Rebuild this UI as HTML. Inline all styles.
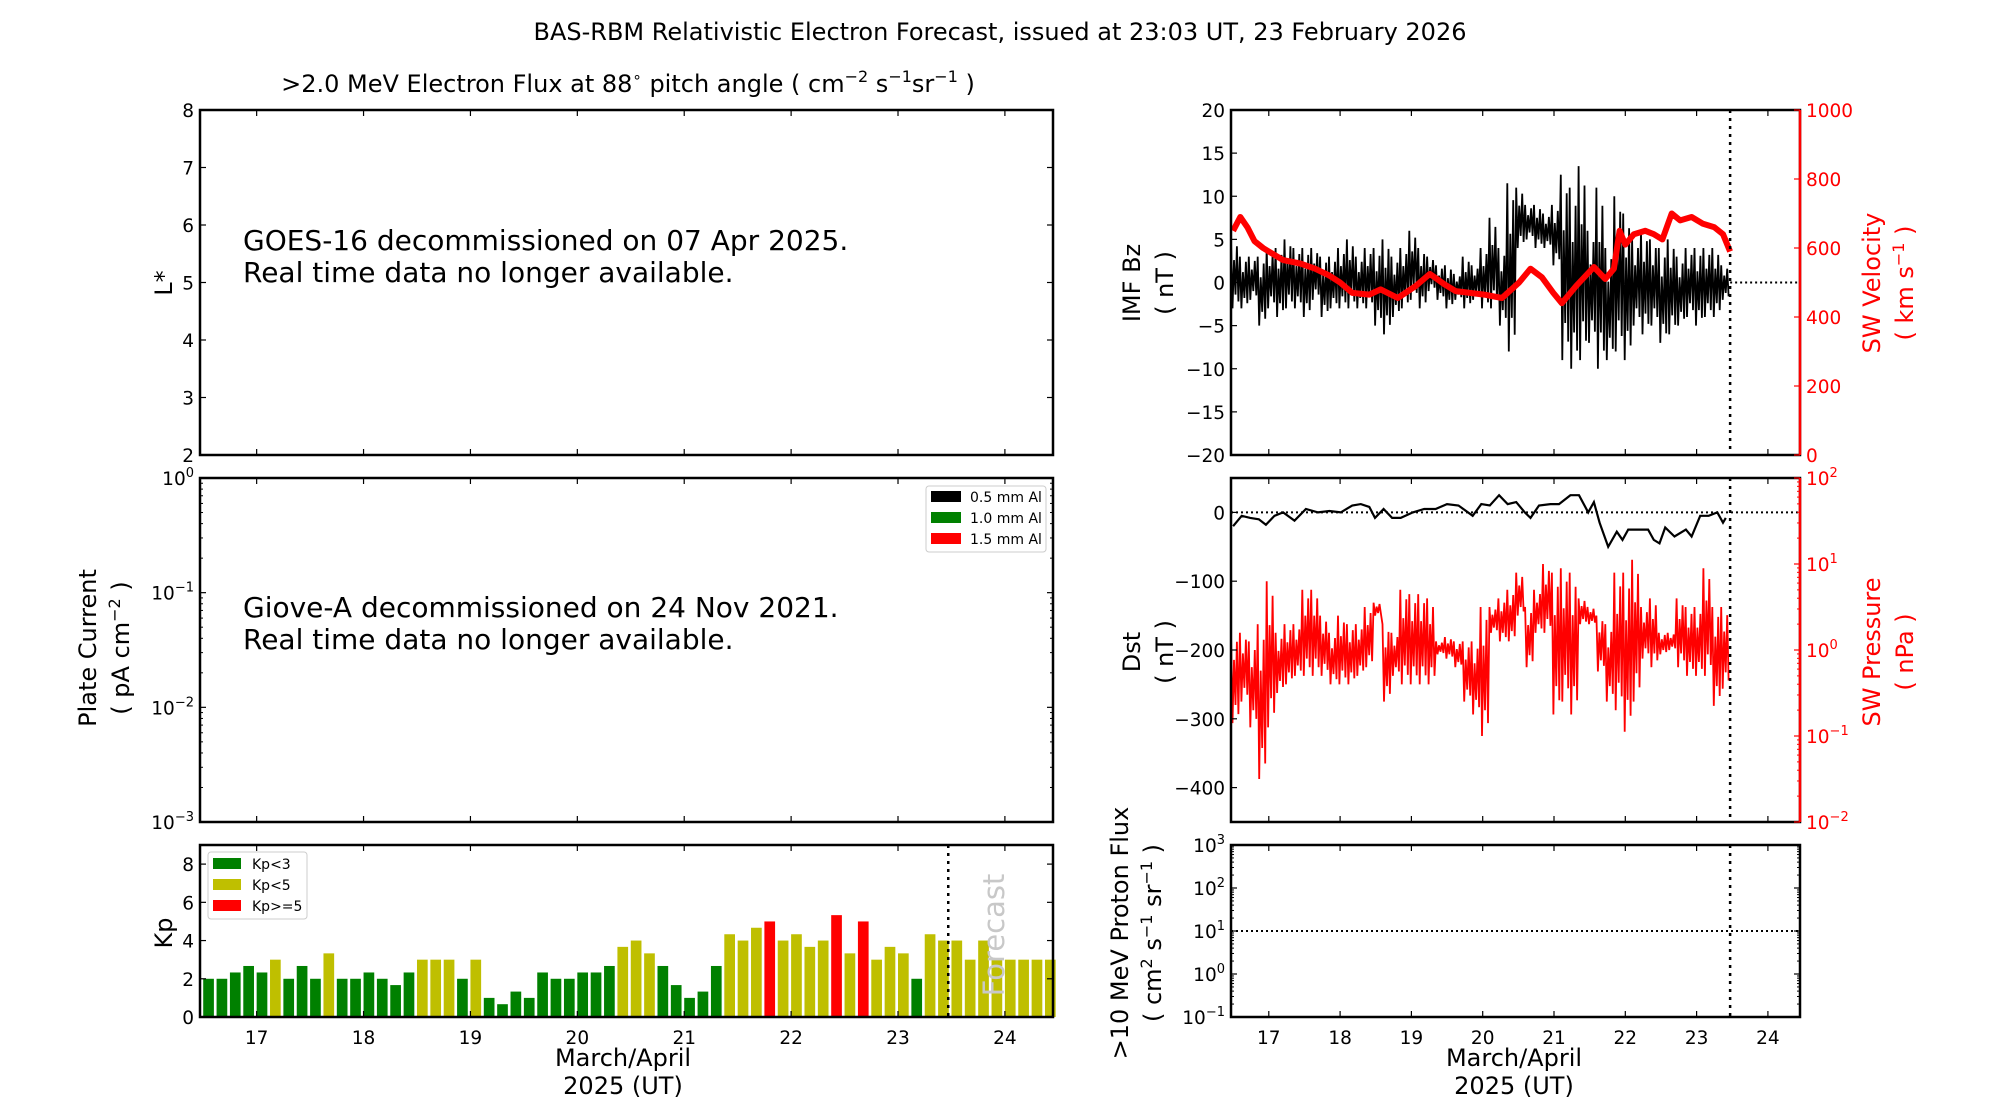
<!DOCTYPE html>
<html><head><meta charset="utf-8"><style>
html,body{margin:0;padding:0;background:#fff}
svg{display:block;font-family:"DejaVu Sans","Liberation Sans",sans-serif}
</style></head><body>
<svg id="c" width="2000" height="1100" viewBox="0 0 2000 1100" xmlns="http://www.w3.org/2000/svg">
<text x="1000" y="40" text-anchor="middle" font-size="24">BAS-RBM Relativistic Electron Forecast, issued at 23:03 UT, 23 February 2026</text>
<text x="628" y="92" text-anchor="middle" font-size="24">&gt;2.0 MeV Electron Flux at 88<tspan font-size="15" dy="-10">∘</tspan><tspan dy="10">  pitch angle ( cm</tspan><tspan font-size="16" dy="-10">−2</tspan><tspan dy="10"> s</tspan><tspan font-size="16" dy="-10">−1</tspan><tspan dy="10">sr</tspan><tspan font-size="16" dy="-10">−1</tspan><tspan dy="10"> )</tspan></text>
<g id="layer"></g>
</svg>
<script>
// ---- data ----
const kpValues=[2,2,2.33,2.67,2.33,3,2,2.67,2,3.33,2,2,2.33,2,1.67,2.33,3,3,3,2,3,1,0.67,1.33,1,2.33,2,2,2.33,2.33,2.67,3.67,4,3.33,2.67,1.67,1,1.33,2.67,4.33,4,4.67,5,4,4.33,3.67,4,5.33,3.33,5,3,3.67,3.33,2,4.33,4,4,3,4,3,3,3,3,3];
const bzHi=[5,3,3,3,4,4,5,4,4,4,3,3,4,5,3,4,4,5,3,4,6,4,3,2,2,1,3,2,4,7.5,4,11.5,11,9,9,8,9,12.5,11,13.5,6,11,4,10,8,5,6,5,4,5,3,4,4,4,4,2];
const bzLo=[-3,-3,-2,-5,-3,-4,-3,-3,-4,-2,-4,-3,-3,-3,-3,-3,-5,-6,-4,-3,-2,-3,-1,-2,-3,-2,-3,-2,-3,-3,-5,-8,4,5,4,4,2,-9,-10,-9,-7,-10,-9,-8,-9,-5,-6,-5,-7,-6,-5,-4,-5,-4,-4,-2];
const velDays=[16.5,16.6,16.7,16.8,16.92,17.04,17.2,17.44,17.65,17.85,18.0,18.17,18.41,18.57,18.81,19.06,19.26,19.46,19.62,19.82,20.02,20.27,20.51,20.67,20.83,20.99,21.11,21.31,21.56,21.72,21.84,21.92,22.0,22.12,22.28,22.4,22.52,22.65,22.77,22.93,23.09,23.25,23.37,23.47];
const velValues=[650,690,660,620,600,585,565,555,540,520,500,470,465,480,455,490,525,495,475,470,465,455,500,540,515,470,440,490,545,510,540,650,610,640,650,640,625,700,680,690,670,660,640,590];
const dstDays=[16.5,16.62,16.74,16.86,16.96,17.08,17.2,17.36,17.52,17.69,17.85,18.01,18.17,18.29,18.41,18.49,18.61,18.73,18.85,19.02,19.18,19.34,19.5,19.66,19.86,19.98,20.1,20.23,20.35,20.47,20.59,20.67,20.79,20.95,21.07,21.23,21.35,21.48,21.56,21.64,21.76,21.88,21.96,22.04,22.2,22.32,22.4,22.48,22.56,22.69,22.85,22.93,23.05,23.17,23.29,23.37,23.41];
const dstValues=[-20,-5,-8,-10,-18,-5,0,-12,5,0,2,0,10,12,8,-8,5,-8,-8,0,5,5,12,10,-5,12,10,25,12,15,0,-8,10,12,12,25,25,0,15,-15,-50,-28,-40,-25,-25,-25,-40,-45,-22,-35,-25,-35,-5,-5,0,-15,-8];
const presLogHi=[0.2,0.2,0.1,0.3,0.8,0.2,0.3,0.3,0.7,0.7,0.4,0.2,0.4,0.3,0.3,0.5,0.55,0.3,0.2,0.7,0.65,0.65,0.6,0.1,0.15,0.1,0.1,0.1,0.5,0.5,0.6,0.7,0.9,0.5,0.7,1.0,0.9,0.95,0.9,0.6,0.5,0.4,0.3,0.9,0.9,1.05,0.5,0.6,0.2,0.2,0.6,0.5,0.5,0.95,0.5,0.5];
const presLogLo=[-0.85,-0.6,-0.9,-1.5,-0.9,-0.5,-0.4,-0.3,-0.3,-0.3,-0.3,-0.4,-0.4,-0.4,-0.3,-0.2,0.4,-0.6,-0.3,-0.4,-0.4,-0.4,-0.4,-0.05,-0.1,-0.2,-0.6,-0.75,-1.0,0.2,0.1,0.1,0.4,-0.2,0.2,0.2,-0.75,-0.6,-0.75,0.3,0.3,-0.25,-0.6,-0.7,-0.95,-0.6,-0.1,-0.2,-0.05,0,-0.2,-0.3,-0.3,-0.3,-0.65,-0.45];
const dayTicks=[17,18,19,20,21,22,23,24];
const nowDay=23.47;

const NS='http://www.w3.org/2000/svg';
const layer=document.getElementById('layer');
const TF=18.5;
function mk(tag,attrs,parent){const e=document.createElementNS(NS,tag);for(const k in attrs)e.setAttribute(k,attrs[k]);(parent||layer).appendChild(e);return e;}
const D0=16.47,D1=24.45;
function lin(d0,d1,p0,p1){return v=>p0+(v-d0)/(d1-d0)*(p1-p0);}
function logs(d0,d1,p0,p1){return v=>p0+(Math.log10(v)-d0)/(d1-d0)*(p1-p0);}

function frame(x0,y0,x1,y1,name,color){
  const r=mk('rect',{x:x0,y:y0,width:x1-x0,height:y1-y0,fill:'none',stroke:'#000','stroke-width':2.5});
  
  
  if(color){mk('line',{x1:x1,y1:y0,x2:x1,y2:y1,stroke:color,'stroke-width':2.5});}
}
function txt(x,y,s,opt,name){
  const t=mk('text',Object.assign({x:x,y:y,'font-size':TF},opt||{}));
  t.textContent=s;
  
  
  return t;
}
function supLabel(x,y,base,exp,anchor,color,name){
  const t=mk('text',{x:x,y:y,'font-size':TF,'text-anchor':anchor,fill:color||'#000'});
  
  
  const a=mk('tspan',{},t);a.textContent=base;
  const b=mk('tspan',{'font-size':13,dy:-8},t);b.textContent=exp;
  return t;
}
function xTicks(x0,x1,y0,y1,labels,name){
  const sx=lin(D0,D1,x0,x1);
  dayTicks.forEach(d=>{
    mk('line',{x1:sx(d),y1:y1,x2:sx(d),y2:y1-6,stroke:'#000','stroke-width':1.2});
    mk('line',{x1:sx(d),y1:y0,x2:sx(d),y2:y0+6,stroke:'#000','stroke-width':1.2});
    if(labels)txt(sx(d),y1+27,String(d),{'text-anchor':'middle'},name+'-tick-'+d);
  });
}
function yTicksLin(x0,x1,sy,vals,side,color,name){
  vals.forEach(v=>{
    const y=sy(v);
    if(side==='left'){mk('line',{x1:x0,y1:y,x2:x0+6,y2:y,stroke:'#000','stroke-width':1.2});
      txt(x0-6,y+7,String(v).replace('-','−'),{'text-anchor':'end',fill:color||'#000'},name+'-'+v);}
    else {mk('line',{x1:x1,y1:y,x2:x1-6,y2:y,stroke:color||'#000','stroke-width':1.2});
      txt(x1+6,y+7,String(v),{'text-anchor':'start',fill:color||'#000'},name+'-'+v);}
  });
}
function yTicksLog(x0,x1,sy,e0,e1,side,color,name,bothSides){
  for(let e=e0;e<=e1;e++){
    const y=sy(Math.pow(10,e));
    const col=color||'#000';
    if(side==='left'||bothSides)mk('line',{x1:x0,y1:y,x2:x0+6,y2:y,stroke:col,'stroke-width':1.2});
    if(side==='right'||bothSides)mk('line',{x1:x1,y1:y,x2:x1-6,y2:y,stroke:col,'stroke-width':1.2});
    if(side==='left')supLabel(x0-6,y+7,'10',String(e).replace('-','−'),'end',col,name+'-'+e);
    else supLabel(x1+6,y+7,'10',String(e).replace('-','−'),'start',col,name+'-'+e);
    if(e<e1)for(let m=2;m<10;m++){const ym=sy(m*Math.pow(10,e));
      if(side==='left'||bothSides)mk('line',{x1:x0,y1:ym,x2:x0+3,y2:ym,stroke:col,'stroke-width':1});
      if(side==='right'||bothSides)mk('line',{x1:x1,y1:ym,x2:x1-3,y2:ym,stroke:col,'stroke-width':1});}
  }
}
function rotLabel(x,y,lines,color,name,size){
  const g=mk('text',{transform:'translate('+x+','+y+') rotate(-90)','text-anchor':'middle','font-size':size||24,fill:color||'#000'});
  
  
  lines.forEach((ln,i)=>{const t=mk('tspan',{x:0,dy:i?33:0},g);
    ln.forEach(p=>{const s=mk('tspan',p[1]?{'font-size':16,'baseline-shift':'super'}:{},t);s.textContent=p[0];});});
  return g;
}
function zig(hi,lo,sx,sy){
  const pts=[];const fr=[1,0,0.7,0.2,0.9,0.1];
  hi.forEach((h,i)=>{const l=lo[i];for(let k=0;k<6;k++){const t=D0+(i+k/6)/8;const v=l+(h-l)*fr[k];pts.push(sx(t).toFixed(1)+','+sy(v).toFixed(1));}});
  return pts.join(' ');
}

// ---- left top: L* panel ----
(function(){
  const x0=200,x1=1053,y0=110,y1=455;const sy=lin(2,8,y1,y0);
  frame(x0,y0,x1,y1,'lstar-panel');
  yTicksLin(x0,x1,sy,[2,3,4,5,6,7,8],'left','#000','lstar-tick');
  [3,4,5,6,7].forEach(v=>mk('line',{x1:x1,y1:sy(v),x2:x1-6,y2:sy(v),stroke:'#000','stroke-width':1.2}));
  xTicks(x0,x1,y0,y1,false,'lstar');
  rotLabel(172,283,[[['L*']]],'#000','lstar-axis-title');
  txt(243,250,'GOES-16 decommissioned on 07 Apr 2025.',{'font-size':28},'goes-notice-line1');
  txt(243,282,'Real time data no longer available.',{'font-size':28},'goes-notice-line2');
})();
// ---- left middle: plate current ----
(function(){
  const x0=200,x1=1053,y0=478,y1=822;const sy=logs(-3,0,y1,y0);
  frame(x0,y0,x1,y1,'plate-current-panel');
  yTicksLog(x0,x1,sy,-3,0,'left','#000','plate-tick',true);
  xTicks(x0,x1,y0,y1,false,'plate');
  rotLabel(96,648,[[['Plate Current']],[['( pA cm'],['−2',1],[' )']]],'#000','plate-axis-title');
  txt(243,617,'Giove-A decommissioned on 24 Nov 2021.',{'font-size':28},'giove-notice-line1');
  txt(243,649,'Real time data no longer available.',{'font-size':28},'giove-notice-line2');
  const lg=mk('rect',{x:926,y:486,width:120,height:66,fill:'#fff',stroke:'#ccc','stroke-width':1,rx:3});
  
  [['#000','0.5 mm Al'],['#008000','1.0 mm Al'],['#ff0000','1.5 mm Al']].forEach((e,i)=>{
    const r=mk('rect',{x:931,y:491+i*21,width:30,height:11,fill:e[0]});
    
    txt(970,502+i*21,e[1],{'font-size':14},'legend-entry-'+i);
  });
})();
// ---- left bottom: Kp ----
(function(){
  const x0=200,x1=1053,y0=845,y1=1017;const sx=lin(D0,D1,x0,x1);const sy=lin(0,9,y1,y0);
  kpValues.forEach((v,i)=>{
    const t=16.5+i/8;const c=v<3?'#008000':(v<5?'#bfbf00':'#ff0000');
    const w=sx(t+0.8/8)-sx(t);
    const r=mk('rect',{x:sx(t),y:sy(v),width:w,height:sy(0)-sy(v),fill:c});
    
    
  });
  const fc=mk('text',{transform:'translate('+(sx(nowDay)+56)+',935) rotate(-90)','text-anchor':'middle','font-size':29,fill:'#c8c8c8'});
  fc.textContent='Forecast';
  const nl=mk('line',{x1:sx(nowDay),y1:y0,x2:sx(nowDay),y2:y1,stroke:'#000','stroke-width':2.5,'stroke-dasharray':'3,5'});
  
  frame(x0,y0,x1,y1,'kp-panel');
  yTicksLin(x0,x1,sy,[0,2,4,6,8],'left','#000','kp-tick');
  [2,4,6,8].forEach(v=>mk('line',{x1:x1,y1:sy(v),x2:x1-6,y2:sy(v),stroke:'#000','stroke-width':1.2}));
  xTicks(x0,x1,y0,y1,true,'kp-x');
  rotLabel(172,933,[[['Kp']]],'#000','kp-axis-title');
  const lg=mk('rect',{x:208,y:852,width:99,height:67,fill:'#fff',stroke:'#ccc','stroke-width':1,rx:3});
  
  [['#008000','Kp<3'],['#bfbf00','Kp<5'],['#ff0000','Kp>=5']].forEach((e,i)=>{
    const r=mk('rect',{x:213,y:858+i*21,width:28,height:11,fill:e[0]});
    
    txt(252,869+i*21,e[1],{'font-size':14},'kp-legend-entry-'+i);
  });
  txt(623,1066,'March/April',{'text-anchor':'middle','font-size':24},'left-x-title-1');
  txt(623,1094,'2025 (UT)',{'text-anchor':'middle','font-size':24},'left-x-title-2');
})();
// ---- right top: Bz / velocity ----
const RX0=1231,RX1=1800;
(function(){
  const x0=RX0,x1=RX1,y0=110,y1=455;const sx=lin(D0,D1,x0,x1);const sy=lin(-20,20,y1,y0);const sv=lin(0,1000,y1,y0);
  const bz=mk('polyline',{points:zig(bzHi,bzLo,sx,sy),fill:'none',stroke:'#000','stroke-width':1.8});
  
  const vp=velDays.map((d,i)=>sx(d).toFixed(1)+','+sv(velValues[i]).toFixed(1)).join(' ');
  const vl=mk('polyline',{points:vp,fill:'none',stroke:'#ff0000','stroke-width':6,'stroke-linejoin':'round'});
  
  mk('line',{x1:sx(nowDay),y1:sy(0),x2:x1,y2:sy(0),stroke:'#000','stroke-width':2,'stroke-dasharray':'2,3'});
  mk('line',{x1:sx(nowDay),y1:y0,x2:sx(nowDay),y2:y1,stroke:'#000','stroke-width':2.5,'stroke-dasharray':'3,5'});
  frame(x0,y0,x1,y1,'bz-panel','#ff0000');
  yTicksLin(x0,x1,sy,[-20,-15,-10,-5,0,5,10,15,20],'left','#000','bz-tick');
  yTicksLin(x0,x1,sv,[0,200,400,600,800,1000],'right','#ff0000','vel-tick');
  xTicks(x0,x1,y0,y1,false,'bz');
  rotLabel(1140,283,[[['IMF Bz']],[['( nT )']]],'#000','bz-axis-title');
  rotLabel(1880,283,[[['SW Velocity']],[['( km s'],['−1',1],[' )']]],'#ff0000','velocity-axis-title');
})();
// ---- right middle: Dst / pressure ----
(function(){
  const x0=RX0,x1=RX1,y0=478,y1=822;const sx=lin(D0,D1,x0,x1);const sy=lin(-450,50,y1,y0);const sp=lin(-2,2,y1,y0);
  const pl=mk('polyline',{points:zig(presLogHi,presLogLo,sx,sp),fill:'none',stroke:'#ff0000','stroke-width':1.8});
  
  mk('line',{x1:x0,y1:sy(0),x2:x1,y2:sy(0),stroke:'#000','stroke-width':2,'stroke-dasharray':'2,3'});
  const dp=dstDays.map((d,i)=>sx(d).toFixed(1)+','+sy(dstValues[i]).toFixed(1)).join(' ');
  const dl=mk('polyline',{points:dp,fill:'none',stroke:'#000','stroke-width':2.2});
  
  mk('line',{x1:sx(nowDay),y1:y0,x2:sx(nowDay),y2:y1,stroke:'#000','stroke-width':2.5,'stroke-dasharray':'3,5'});
  frame(x0,y0,x1,y1,'dst-panel','#ff0000');
  yTicksLin(x0,x1,sy,[-400,-300,-200,-100,0],'left','#000','dst-tick');
  yTicksLog(x0,x1,v=>sp(Math.log10(v)),-2,2,'right','#ff0000','pressure-tick',false);
  xTicks(x0,x1,y0,y1,false,'dst');
  rotLabel(1140,652,[[['Dst']],[['( nT )']]],'#000','dst-axis-title');
  rotLabel(1880,652,[[['SW Pressure']],[['( nPa )']]],'#ff0000','pressure-axis-title');
})();
// ---- right bottom: proton flux ----
(function(){
  const x0=RX0,x1=RX1,y0=845,y1=1017;const sx=lin(D0,D1,x0,x1);const sy=logs(-1,3,y1,y0);
  mk('line',{x1:x0,y1:sy(10),x2:x1,y2:sy(10),stroke:'#000','stroke-width':2,'stroke-dasharray':'2,3'});
  mk('line',{x1:sx(nowDay),y1:y0,x2:sx(nowDay),y2:y1,stroke:'#000','stroke-width':2.5,'stroke-dasharray':'3,5'});
  frame(x0,y0,x1,y1,'proton-panel');
  yTicksLog(x0,x1,sy,-1,3,'left','#000','proton-tick',true);
  xTicks(x0,x1,y0,y1,true,'proton-x');
  rotLabel(1128,933,[[['>10 MeV Proton Flux']],[['( cm'],['2',1],[' s'],['−1',1],[' sr'],['−1',1],[' )']]],'#000','proton-axis-title');
  txt(1514,1066,'March/April',{'text-anchor':'middle','font-size':24},'right-x-title-1');
  txt(1514,1094,'2025 (UT)',{'text-anchor':'middle','font-size':24},'right-x-title-2');
})();
</script>
</body></html>
